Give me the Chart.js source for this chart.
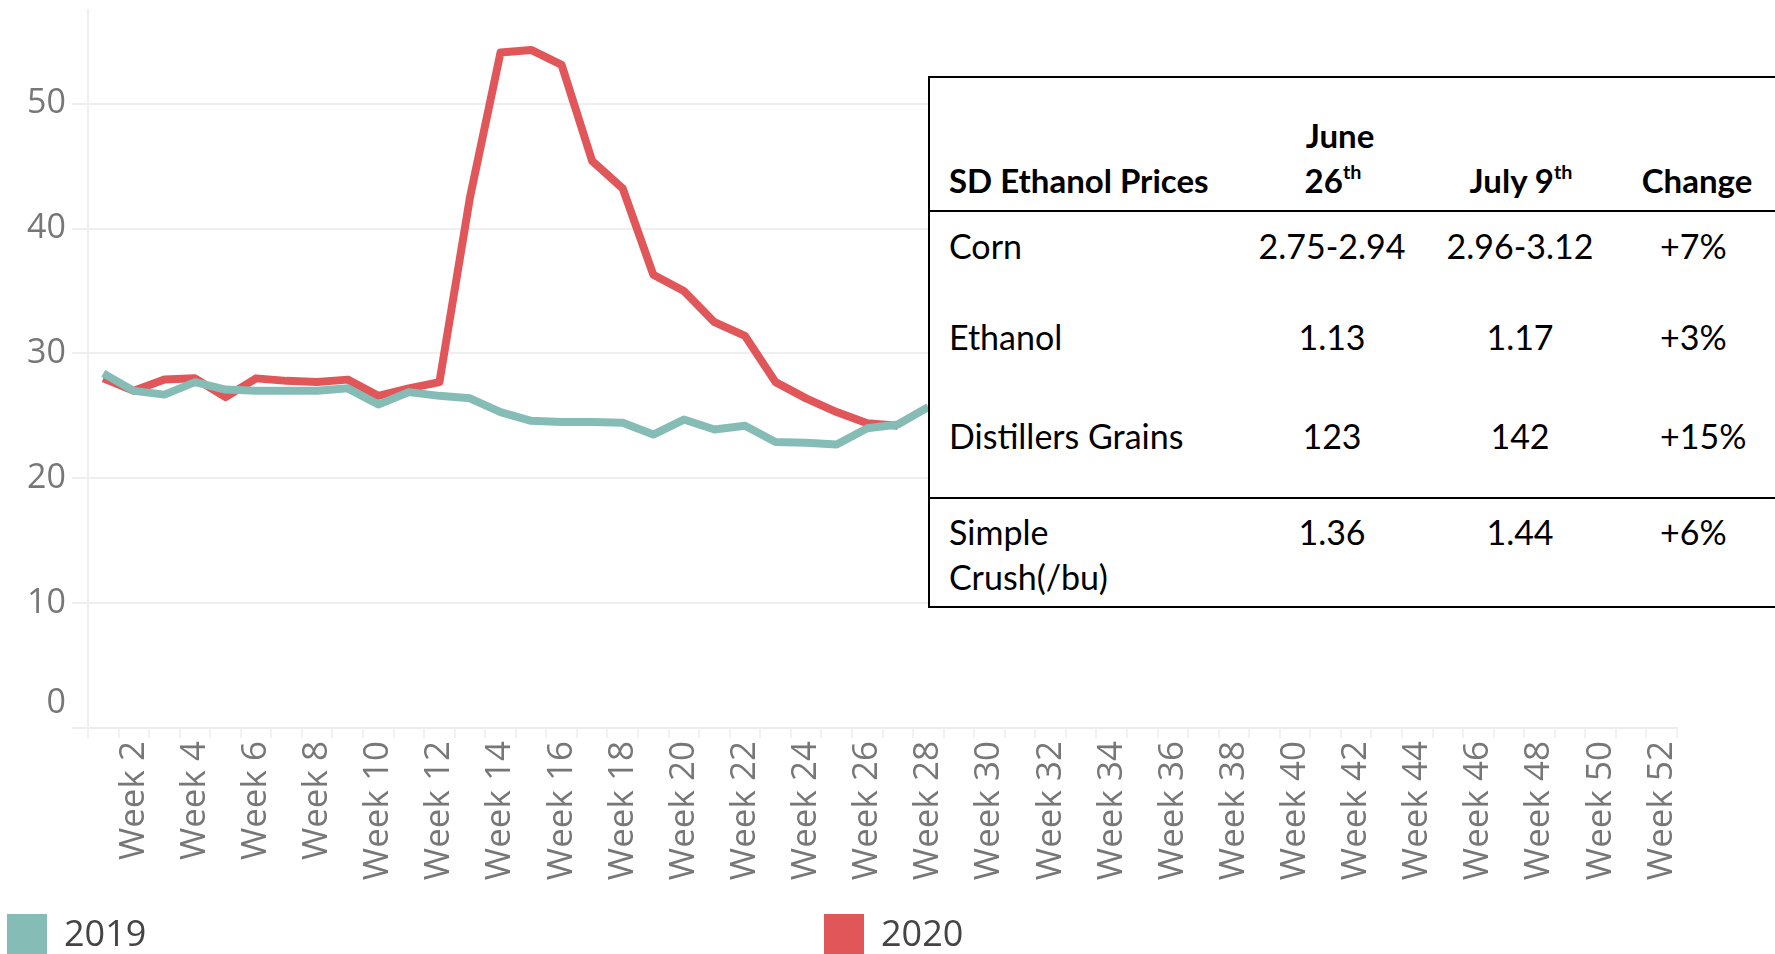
<!DOCTYPE html>
<html>
<head>
<meta charset="utf-8">
<script src="https://cdn.jsdelivr.net/npm/chart.js@4.4.1/dist/chart.umd.min.js"></script>
<style>
  html, body { margin: 0; padding: 0; background: #fff; }
  #wrap { position: relative; width: 1775px; height: 954px; overflow: hidden; }
  #chart { position: absolute; left: 0; top: 0; }
  #tbl {
    position: absolute; left: 928px; top: 76px; width: 860px; height: 532px;
    background: #fff; border: 2px solid #000; border-right: none; box-sizing: border-box;
  }
  .hline { position: absolute; left: 928px; width: 860px; height: 2px; background: #000; }
  .cell { position: absolute; font-family: Lato, "Noto Sans", sans-serif; font-size: 34px;
          color: #000; line-height: 45px; white-space: nowrap; }
  .cell.b { font-weight: bold; font-size: 33px; }
  .cell.c { transform: translateX(-50%); text-align: center; }
  .cell sup { font-size: 60%; line-height: 0; position: relative; top: -0.1em; }
  .leg { position: absolute; top: 914px; font-family: "Open Sans", sans-serif; font-size: 36px;
         color: #444; line-height: 40px; }
  .leg i { position: absolute; left: 0; top: 0; width: 40px; height: 40px; }
  .leg span { position: absolute; left: 57px; top: -1px; }
</style>
</head>
<body>
<div id="wrap">
  <canvas id="chart" width="1775" height="954"></canvas>
  <div id="tbl"></div>
</div>
<script>
// weekly values
const weeks = [];
for (let w = 1; w <= 52; w++) weeks.push('Week ' + w);

const y2019 = [28.4, 27.0, 26.7, 27.7, 27.1, 27.0, 27.0, 27.0, 27.2, 25.9,
               26.9, 26.6, 26.4, 25.3, 24.6, 24.5, 24.5, 24.45, 23.5, 24.7,
               23.9, 24.2, 22.9, 22.85, 22.7, 24.0, 24.3, 25.7];
const y2020 = [28.0, 27.0, 27.9, 28.0, 26.5, 28.0, 27.8, 27.7, 27.9, 26.6,
               27.2, 27.7, 42.5, 54.1, 54.3, 53.1, 45.4, 43.2, 36.3, 35.0,
               32.5, 31.4, 27.7, 26.4, 25.3, 24.4, 24.2];

const seriesNames = ['2019', '2020'];
const seriesColors = ['#86bcb6', '#e15759'];

// price table
const tableHead = ['SD Ethanol Prices', 'June', '26<sup>th</sup>', 'July 9<sup>th</sup>', 'Change'];
const rowNames = ['Corn', 'Ethanol', 'Distillers Grains', 'Simple<br>Crush(/bu)'];
const june26 = ['2.75-2.94', '1.13', '123', '1.36'];
const july9 = ['2.96-3.12', '1.17', '142', '1.44'];
const change = ['+7%', '+3%', '+15%', '+6%'];

const wrap = document.getElementById('wrap');
function addCell(html, x, top, cls) {
  const d = document.createElement('div');
  d.className = 'cell ' + (cls || '');
  d.style.left = x + 'px';
  d.style.top = top + 'px';
  d.innerHTML = html;
  wrap.appendChild(d);
}
[212 - 2, 498 - 1].forEach(y => {
  const l = document.createElement('div');
  l.className = 'hline';
  l.style.top = y + 'px';
  wrap.appendChild(l);
});
addCell(tableHead[0], 949, 158, 'b');
addCell(tableHead[1], 1340, 113, 'b c');
addCell(tableHead[2], 1333, 158, 'b c');
addCell(tableHead[3], 1521, 158, 'b c');
addCell(tableHead[4], 1697, 158, 'b c');
const rowTops = [223, 314, 413, 509];
rowNames.forEach((name, i) => {
  addCell(name, 949, rowTops[i]);
  addCell(june26[i], 1332, rowTops[i], 'c');
  addCell(july9[i], 1520, rowTops[i], 'c');
  addCell(change[i], 1660, rowTops[i]);
});

// legend
seriesNames.forEach((name, i) => {
  const d = document.createElement('div');
  d.className = 'leg';
  d.style.left = (i === 0 ? 7 : 824) + 'px';
  d.innerHTML = '<i style="background:' + seriesColors[i] + '"></i><span>' + name + '</span>';
  wrap.appendChild(d);
});

const zeroLabel = {
  id: 'zeroLabel',
  afterDraw(chart) {
    const { ctx, scales: { y } } = chart;
    ctx.save();
    ctx.font = '34px "Open Sans"';
    ctx.fillStyle = '#777';
    ctx.textAlign = 'right';
    ctx.textBaseline = 'middle';
    ctx.fillText('0', y.right - 22, y.getPixelForValue(0) - 25);
    ctx.restore();
  }
};

new Chart(document.getElementById('chart'), {
  type: 'line',
  data: {
    labels: weeks,
    datasets: [y2019, y2020].map((d, i) => ({
      label: seriesNames[i],
      data: d,
      borderColor: seriesColors[i],
      borderWidth: 8,
      pointRadius: 0,
      tension: 0,
      borderJoinStyle: 'round',
      fill: false
    }))
  },
  options: {
    responsive: false,
    animation: false,
    layout: { padding: { left: 0, right: 98, top: 10, bottom: 66 } },
    plugins: { legend: { display: false }, tooltip: { enabled: false } },
    scales: {
      x: {
        offset: true,
        grid: { offset: true, drawOnChartArea: false, color: '#f2f2f2', lineWidth: 2, tickLength: 10 },
        border: { color: '#ececec', width: 2 },
        ticks: {
          autoSkip: false, maxRotation: 90, minRotation: 90, padding: 3, color: '#777',
          font: { family: 'Open Sans', size: 35 },
          callback: (v, i) => (i % 2 === 1 ? weeks[i] : '')
        },
        afterFit: s => { s.height = 160; }
      },
      y: {
        min: 0, max: 57.5,
        afterBuildTicks: s => { s.ticks = s.ticks.filter(t => t.value % 10 === 0); },
        grid: { color: '#efefef', lineWidth: 2, tickLength: 16 },
        border: { color: '#efefef', width: 2 },
        ticks: {
          stepSize: 10, padding: 6, color: '#777',
          font: { family: 'Open Sans', size: 34 },
          callback: v => (v === 0 ? '' : v)
        },
        afterFit: s => { s.width = 88; s.paddingTop = 0; s.paddingBottom = 0; }
      }
    }
  },
  plugins: [zeroLabel]
});
</script>
</body>
</html>
